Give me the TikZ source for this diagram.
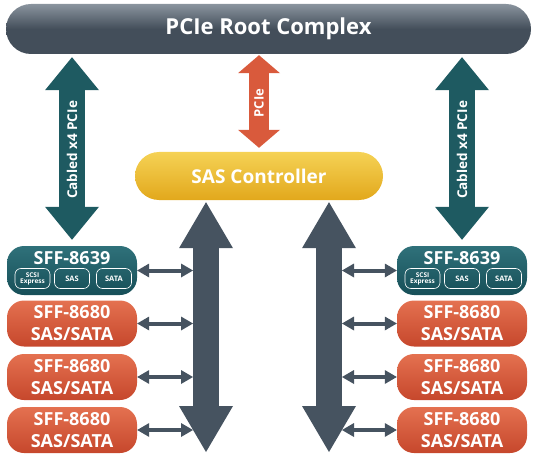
\documentclass[tikz,border=0pt]{standalone}
\usepackage{fontspec}
\setmainfont{Open Sans}
\usetikzlibrary{arrows.meta, positioning}
\definecolor{rootdark}{HTML}{434E5A}
\definecolor{rootlight}{HTML}{8A949E}
\definecolor{tealdark}{HTML}{174F58}
\definecolor{teallight}{HTML}{2F717A}
\definecolor{tealarrow}{HTML}{1E5A61}
\definecolor{orangedark}{HTML}{C6472C}
\definecolor{orangelight}{HTML}{E47150}
\definecolor{orangearrow}{HTML}{D95A3C}
\definecolor{golddark}{HTML}{E2A81C}
\definecolor{goldlight}{HTML}{F5D255}
\definecolor{busgray}{HTML}{465360}

\begin{document}
\begin{tikzpicture}[x=1pt, y=-1pt,
		txt/.style={text=white, font=\bfseries\fontsize{18}{22}\selectfont, align=center, inner sep=0pt},
		drivebox/.style={txt, rounded corners=17pt, minimum width=130pt, minimum height=46pt, top color=orangelight, bottom color=orangedark},
		u2box/.style={txt, rounded corners=17pt, minimum width=130pt, minimum height=49pt, top color=teallight, bottom color=tealdark},
		subbox/.style={draw=white, line width=0.6pt, rounded corners=6pt, minimum width=35pt, minimum height=20pt, inner sep=0pt, align=center, text=white, font=\bfseries\fontsize{7.5}{7.5}\selectfont},
		fatarrow/.style={line width=26pt, {Triangle[length=33pt, width=54pt, line width=0pt]}-{Triangle[length=33pt, width=54pt, line width=0pt]}},
		busarrow/.style={busgray, line width=26pt, {Triangle[length=46pt, width=54pt, line width=0pt]}-{Triangle[length=46pt, width=54pt, line width=0pt]}},
		linkarrow/.style={busgray, line width=4pt, {Triangle[length=12pt, width=14pt, line width=0pt]}-{Triangle[length=12pt, width=14pt, line width=0pt]}}]
	\useasboundingbox (0,0) rectangle (540,457);

	% root complex and controller
	\node[txt, font=\bfseries\fontsize{22}{22}\selectfont, rounded corners=25pt, minimum width=525pt, minimum height=50pt,
		top color=rootlight, bottom color=rootdark, middle color=rootdark] (root) at (268.5,29) {PCIe Root Complex};
	\node[txt, font=\bfseries\fontsize{19}{19}\selectfont, rounded corners=24pt, minimum width=248pt, minimum height=48pt,
		top color=goldlight, bottom color=golddark] (ctrl) at (259,176) {SAS Controller};

	% drive connectors
	\foreach \s/\x in {l/72, r/462}{
		\node[u2box] (\s0) at (\x,270.5) {};
		\node[txt] (\s0t) at ([yshift=12pt]\s0.center) {SFF-8639};
		\node[subbox, font=\bfseries\fontsize{6.5}{6.5}\selectfont] (\s0a) at ([xshift=-39.5pt, yshift=-8pt]\s0.center) {SCSI\\[-0.5pt]Express};
		\node[subbox] (\s0b) at ([yshift=-8pt]\s0.center) {SAS};
		\node[subbox] (\s0c) at ([xshift=42pt, yshift=-8pt]\s0.center) {SATA};
		\foreach \y [count=\i] in {323.5, 377, 430}{
			\node[drivebox] (\s\i) at (\x,\y) {SFF-8680\\SAS/SATA};
		}
	}

	% PCIe links
	\draw[fatarrow, tealarrow, shorten <=3pt, shorten >=6pt] (root.south -| l0.north) -- node[txt, rotate=90, font=\bfseries\fontsize{13.5}{13.5}\selectfont] {Cabled x4 PCIe} (l0.north);
	\draw[fatarrow, tealarrow, shorten <=3pt, shorten >=6pt] (root.south -| r0.north) -- node[txt, rotate=90, font=\bfseries\fontsize{13.5}{13.5}\selectfont] {Cabled x4 PCIe} (r0.north);
	\draw[orangearrow, line width=20pt, shorten <=1pt, shorten >=4pt,
		{Triangle[length=18pt, width=42pt, line width=0pt]}-{Triangle[length=18pt, width=42pt, line width=0pt]}]
		(root.south -| ctrl.north) -- node[txt, rotate=90, font=\bfseries\fontsize{13}{13}\selectfont] {PCIe} (ctrl.north);

	% SAS buses
	\coordinate (lbot) at (206,452);
	\coordinate (rbot) at (329,452);
	\coordinate (ledge) at (193,452);
	\coordinate (redge) at (342,452);
	\draw[busarrow, shorten <=2pt] (ctrl.south -| lbot) -- (lbot);
	\draw[busarrow, shorten <=2pt] (ctrl.south -| rbot) -- (rbot);
	\foreach \i in {0,1,2,3}{
		\draw[linkarrow] (l\i.east) -- (l\i.east -| ledge);
		\draw[linkarrow] (r\i.west) -- (r\i.west -| redge);
	}
\end{tikzpicture}
\end{document}
